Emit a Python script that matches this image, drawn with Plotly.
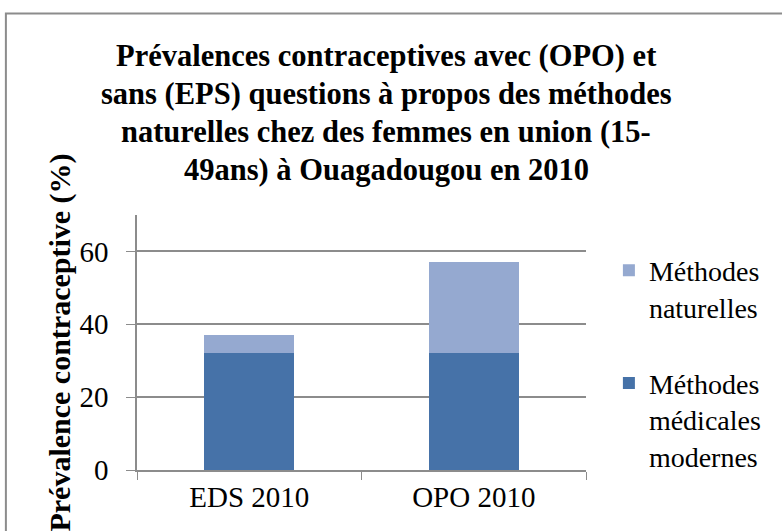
import plotly.graph_objects as go

# data
categories = ["EDS 2010", "OPO 2010"]
modernes = [32, 32]
naturelles = [5, 25]
title_lines = ["Prévalences contraceptives avec (OPO) et",
               "sans (EPS) questions à propos des méthodes",
               "naturelles chez des femmes en union (15-",
               "49ans) à Ouagadougou en 2010"]

fnt = "Liberation Serif"

fig = go.Figure()
fig.add_trace(go.Bar(x=categories, y=modernes, name="Méthodes<br>médicales<br>modernes",
                     marker=dict(color="#4672A8", line=dict(width=0)),
                     legendgroup="a", legendrank=2))
fig.add_trace(go.Bar(x=categories, y=naturelles, name="Méthodes<br>naturelles",
                     marker=dict(color="#95A9D0", line=dict(width=0)),
                     legendgroup="b", legendrank=1))

fig.update_layout(
    barmode="stack",
    bargap=0.6,
    width=782, height=531,
    margin=dict(l=137, r=196, t=215, b=61, autoexpand=False),
    paper_bgcolor="white", plot_bgcolor="white",
    font=dict(family=fnt, size=29, color="black"),
    legend=dict(x=1.051, y=0.88, xanchor="left", yanchor="top", traceorder="grouped",
                tracegroupgap=37, valign="top", font=dict(family=fnt, size=28, color="black"),
                itemwidth=30),
    showlegend=True,
)

# title, one line per annotation
for i, line in enumerate(title_lines):
    fig.add_annotation(text="<b>" + line + "</b>", xref="paper", yref="paper",
                       x=0.5546, y=1.6235 - i * 0.149, xanchor="center", yanchor="middle",
                       showarrow=False, font=dict(family=fnt, size=30.5, color="black"))

fig.update_yaxes(range=[0, 70], tickvals=[0, 20, 40, 60], showgrid=True, gridcolor="#8C8C8C",
                 gridwidth=1.5, showline=True, linecolor="#8C8C8C", linewidth=1.5,
                 ticks="outside", ticklen=9, tickcolor="#8C8C8C", zeroline=False, automargin=False,
                 tickfont=dict(family=fnt, size=29), ticklabelstandoff=12,
                 title=dict(text="<b>Prévalence contraceptive (%)</b>", standoff=0,
                            font=dict(family=fnt, size=30)))
fig.update_xaxes(showline=True, linecolor="#8C8C8C", linewidth=1.5, ticks="outside", automargin=False,
                 tickson="boundaries", ticklen=8, tickcolor="#8C8C8C", tickfont=dict(family=fnt, size=29))

# chart frame
fig.add_shape(type="rect", xref="paper", yref="paper", x0=-0.292, x1=2, y0=-1, y1=1.79,
              line=dict(color="#8C8C8C", width=2), fillcolor="rgba(0,0,0,0)", layer="below")

# drop the default body margin so the figure fills the window
fig.write_html("out.html", config={"displayModeBar": False},
               post_script="document.body.style.margin='0';")
